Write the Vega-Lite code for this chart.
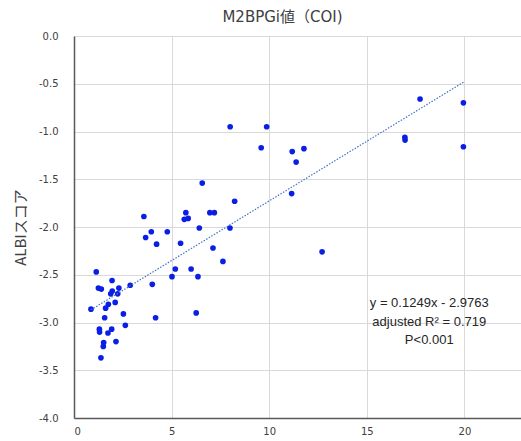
{
  "$schema": "https://vega.github.io/schema/vega-lite/v6.json",
  "width": 447,
  "height": 382,
  "autosize": {"type": "none"},
  "padding": {"left": 74, "top": 36, "right": 0, "bottom": 23},
  "background": "white",
  "title": {"text": "M2BPGi値（COI)", "font": "DejaVu Sans, Noto Sans CJK JP", "fontSize": 15, "fontWeight": "normal", "color": "#404040", "anchor": "middle", "frame": "group", "offset": 6, "dx": -15},
  "config": {
    "view": {"stroke": null},
    "axis": {"labelFont": "DejaVu Sans", "labelFontSize": 10, "labelColor": "#404040", "gridColor": "#d9d9d9", "gridWidth": 1, "ticks": false, "domainColor": "#595959", "domainWidth": 1.5}
  },
  "layer": [
    {
      "data": {"values": [
        {"coi": 0.87, "albi": -2.86}, {"coi": 1.14, "albi": -2.47}, {"coi": 1.25, "albi": -2.64}, {"coi": 1.40, "albi": -2.65},
        {"coi": 1.95, "albi": -2.56}, {"coi": 1.96, "albi": -2.67}, {"coi": 2.30, "albi": -2.64}, {"coi": 1.88, "albi": -2.70},
        {"coi": 2.24, "albi": -2.70}, {"coi": 2.88, "albi": -2.61}, {"coi": 4.01, "albi": -2.60}, {"coi": 1.76, "albi": -2.81},
        {"coi": 2.11, "albi": -2.79}, {"coi": 1.62, "albi": -2.85}, {"coi": 1.57, "albi": -2.95}, {"coi": 4.18, "albi": -2.95},
        {"coi": 2.53, "albi": -2.91}, {"coi": 6.26, "albi": -2.90}, {"coi": 2.63, "albi": -3.03}, {"coi": 1.30, "albi": -3.07},
        {"coi": 1.31, "albi": -3.10}, {"coi": 1.93, "albi": -3.07}, {"coi": 1.74, "albi": -3.11}, {"coi": 1.52, "albi": -3.21},
        {"coi": 1.50, "albi": -3.25}, {"coi": 2.15, "albi": -3.20}, {"coi": 1.38, "albi": -3.37},
        {"coi": 6.57, "albi": -1.54}, {"coi": 3.58, "albi": -1.89}, {"coi": 5.73, "albi": -1.85}, {"coi": 5.65, "albi": -1.92},
        {"coi": 5.85, "albi": -1.91}, {"coi": 6.96, "albi": -1.85}, {"coi": 7.19, "albi": -1.85}, {"coi": 6.42, "albi": -2.01},
        {"coi": 7.99, "albi": -2.01}, {"coi": 3.96, "albi": -2.05}, {"coi": 3.67, "albi": -2.11}, {"coi": 4.78, "albi": -2.05},
        {"coi": 4.23, "albi": -2.18}, {"coi": 5.46, "albi": -2.17}, {"coi": 7.12, "albi": -2.22}, {"coi": 7.63, "albi": -2.36},
        {"coi": 5.19, "albi": -2.44}, {"coi": 6.00, "albi": -2.44}, {"coi": 5.02, "albi": -2.52}, {"coi": 6.35, "albi": -2.52},
        {"coi": 8.00, "albi": -0.95}, {"coi": 9.87, "albi": -0.95}, {"coi": 9.59, "albi": -1.17}, {"coi": 11.18, "albi": -1.21},
        {"coi": 11.78, "albi": -1.18}, {"coi": 11.38, "albi": -1.32}, {"coi": 11.15, "albi": -1.65}, {"coi": 8.23, "albi": -1.73},
        {"coi": 12.71, "albi": -2.26}, {"coi": 17.73, "albi": -0.66}, {"coi": 19.95, "albi": -0.70}, {"coi": 16.95, "albi": -1.06},
        {"coi": 16.96, "albi": -1.09}, {"coi": 19.95, "albi": -1.16}
      ]},
      "mark": {"type": "circle", "size": 32, "color": "#0a1ee6", "opacity": 1},
      "encoding": {
        "x": {"field": "coi", "type": "quantitative", "scale": {"domain": [0, 22.9], "nice": false, "zero": false}, "axis": {"values": [0, 5, 10, 15, 20], "title": null, "labelPadding": 8, "domain": true}},
        "y": {"field": "albi", "type": "quantitative", "scale": {"domain": [-4, 0], "nice": false}, "axis": {"values": [0, -0.5, -1, -1.5, -2, -2.5, -3, -3.5, -4], "labelExpr": "replace(format(datum.value, '.1f'), '\u2212', '-')", "title": "ALBIスコア", "titleFont": "Noto Sans CJK JP", "titleFontSize": 15, "titleFontWeight": "normal", "titleColor": "#404040", "titlePadding": 10, "labelPadding": 16}}
      }
    },
    {
      "data": {"values": [{"coi": 0.87, "albi": -2.867}, {"coi": 20, "albi": -0.478}]},
      "mark": {"type": "line", "color": "#4472c4", "strokeWidth": 1.2, "strokeDash": [1.5, 1.5]},
      "encoding": {"x": {"field": "coi", "type": "quantitative"}, "y": {"field": "albi", "type": "quantitative"}}
    },
    {
      "data": {"values": [
        {"coi": 18.2, "albi": -2.80, "label": "y = 0.1249x - 2.9763"},
        {"coi": 18.2, "albi": -2.99, "label": "adjusted R² = 0.719"},
        {"coi": 18.2, "albi": -3.18, "label": "P<0.001"}
      ]},
      "mark": {"type": "text", "font": "Liberation Sans", "fontSize": 13, "color": "#262626", "align": "center", "baseline": "middle"},
      "encoding": {"x": {"field": "coi", "type": "quantitative"}, "y": {"field": "albi", "type": "quantitative"}, "text": {"field": "label"}}
    }
  ]
}
